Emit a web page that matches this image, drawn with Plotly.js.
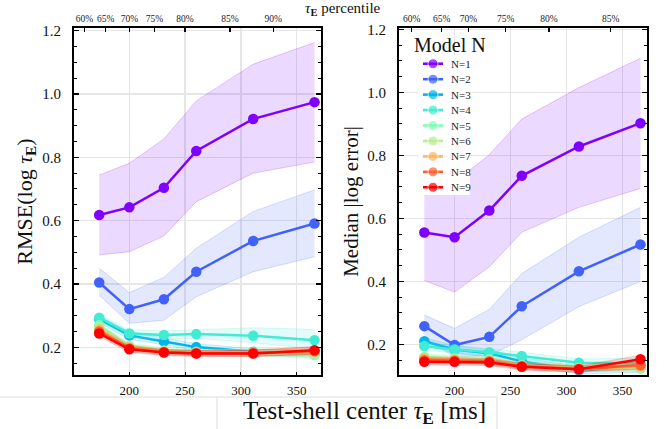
<!DOCTYPE html>
<html>
<head>
<meta charset="utf-8">
<script src="https://cdn.plot.ly/plotly-3.0.1.min.js"></script>
<style>html,body{margin:0;padding:0;background:#fff;}#chart{width:665px;height:429px;}</style>
</head>
<body>
<div id="chart"></div>
<script>
// ---------- data ----------
const tauCenters = [173, 200, 231, 260, 311, 366];
const modelNames = ['N=1','N=2','N=3','N=4','N=5','N=6','N=7','N=8','N=9'];
const modelColors = ['#8000ff','#4062fa','#00b4ec','#40ecd4','#80ffb4','#bfec8e','#ffb462','#ff6232','#ff0000'];

// Left panel: RMSE(log tau_E)
const rmseMid = [
  [0.618, 0.642, 0.704, 0.820, 0.921, 0.974],
  [0.405, 0.321, 0.352, 0.439, 0.536, 0.591],
  [0.289, 0.238, 0.219, 0.201, 0.186, 0.179],
  [0.294, 0.244, 0.239, 0.242, 0.237, 0.223],
  [0.270, 0.205, 0.190, 0.186, 0.183, 0.176],
  [0.262, 0.202, 0.188, 0.184, 0.184, 0.183],
  [0.256, 0.200, 0.187, 0.183, 0.183, 0.186],
  [0.250, 0.197, 0.185, 0.182, 0.182, 0.189],
  [0.244, 0.194, 0.184, 0.181, 0.181, 0.191]
];
const rmseLow = [
  [0.492, 0.502, 0.552, 0.660, 0.750, 0.785],
  [0.365, 0.276, 0.286, 0.360, 0.439, 0.486],
  [0.278, 0.226, 0.208, 0.190, 0.176, 0.168],
  [0.283, 0.232, 0.226, 0.228, 0.215, 0.195],
  [0.260, 0.196, 0.181, 0.177, 0.173, 0.164],
  [0.252, 0.193, 0.179, 0.175, 0.174, 0.171],
  [0.246, 0.191, 0.178, 0.174, 0.173, 0.174],
  [0.240, 0.188, 0.176, 0.173, 0.172, 0.177],
  [0.234, 0.185, 0.175, 0.172, 0.171, 0.179]
];
const rmseHigh = [
  [0.744, 0.781, 0.858, 0.978, 1.094, 1.162],
  [0.450, 0.373, 0.421, 0.513, 0.629, 0.697],
  [0.300, 0.250, 0.230, 0.212, 0.196, 0.190],
  [0.305, 0.256, 0.252, 0.256, 0.262, 0.257],
  [0.280, 0.214, 0.199, 0.195, 0.193, 0.188],
  [0.272, 0.211, 0.197, 0.193, 0.194, 0.195],
  [0.266, 0.209, 0.196, 0.192, 0.193, 0.198],
  [0.260, 0.206, 0.194, 0.191, 0.192, 0.201],
  [0.254, 0.203, 0.193, 0.190, 0.191, 0.203]
];

// Right panel: Median |log error|
const medMid = [
  [0.555, 0.540, 0.625, 0.735, 0.828, 0.902],
  [0.258, 0.198, 0.224, 0.321, 0.432, 0.517],
  [0.210, 0.184, 0.172, 0.146, 0.118, 0.125],
  [0.195, 0.184, 0.175, 0.163, 0.142, 0.140],
  [0.160, 0.155, 0.152, 0.135, 0.125, 0.124],
  [0.158, 0.153, 0.150, 0.133, 0.124, 0.128],
  [0.155, 0.151, 0.148, 0.132, 0.123, 0.131],
  [0.150, 0.148, 0.146, 0.131, 0.122, 0.134],
  [0.145, 0.145, 0.143, 0.129, 0.121, 0.153]
];
const medLow = [
  [0.403, 0.366, 0.446, 0.556, 0.635, 0.695],
  [0.220, 0.160, 0.165, 0.215, 0.320, 0.400],
  [0.198, 0.172, 0.160, 0.134, 0.106, 0.112],
  [0.183, 0.172, 0.163, 0.151, 0.130, 0.126],
  [0.150, 0.145, 0.142, 0.125, 0.115, 0.112],
  [0.148, 0.143, 0.140, 0.123, 0.114, 0.116],
  [0.145, 0.141, 0.138, 0.122, 0.113, 0.119],
  [0.140, 0.138, 0.136, 0.121, 0.112, 0.122],
  [0.135, 0.135, 0.133, 0.119, 0.111, 0.140]
];
const medHigh = [
  [0.710, 0.715, 0.802, 0.915, 1.015, 1.108],
  [0.293, 0.251, 0.311, 0.425, 0.540, 0.635],
  [0.222, 0.196, 0.184, 0.158, 0.130, 0.138],
  [0.207, 0.196, 0.187, 0.175, 0.154, 0.156],
  [0.170, 0.165, 0.162, 0.145, 0.135, 0.136],
  [0.168, 0.163, 0.160, 0.143, 0.134, 0.140],
  [0.165, 0.161, 0.158, 0.142, 0.133, 0.143],
  [0.160, 0.158, 0.156, 0.141, 0.132, 0.146],
  [0.155, 0.155, 0.153, 0.139, 0.131, 0.166]
];

// Top percentile axes
const pctLabelsLeft = ['60%','65%','70%','75%','80%','85%','90%'];
const pctTauLeft = [159.7, 178.9, 200, 222.4, 249.9, 290.2, 329];
const pctLabelsRight = ['60%','65%','70%','75%','80%','85%'];
const pctTauRight = [161.7, 188.5, 212.3, 245.7, 284.3, 339.4];

// ---------- helpers ----------
function rgba(hex, a) {
  const r = parseInt(hex.slice(1,3),16), g = parseInt(hex.slice(3,5),16), b = parseInt(hex.slice(5,7),16);
  return 'rgba(' + r + ',' + g + ',' + b + ',' + a + ')';
}

const serif = '"Liberation Serif", "Times New Roman", serif';
const traces = [];
function addPanel(mid, lo, hi, xa, ya) {
  for (let i = 0; i < modelNames.length; i++) {
    const c = modelColors[i];
    traces.push({x: tauCenters, y: lo[i], xaxis: xa, yaxis: ya, mode: 'lines', type: 'scatter',
      line: {color: rgba(c, 0.25), width: 0.8}, showlegend: false, hoverinfo: 'skip'});
    traces.push({x: tauCenters, y: hi[i], xaxis: xa, yaxis: ya, mode: 'lines', type: 'scatter',
      fill: 'tonexty', fillcolor: rgba(c, 0.15),
      line: {color: rgba(c, 0.25), width: 0.8}, showlegend: false, hoverinfo: 'skip'});
    traces.push({x: tauCenters, y: mid[i], xaxis: xa, yaxis: ya, mode: 'lines+markers', type: 'scatter',
      name: modelNames[i], line: {color: c, width: 2.5}, marker: {color: c, size: 10.5},
      showlegend: false});
  }
}
addPanel(rmseMid, rmseLow, rmseHigh, 'x', 'y');
addPanel(medMid, medLow, medHigh, 'x2', 'y2');

// empty carriers so that the top percentile axes are drawn
traces.push({x: pctTauLeft, y: pctTauLeft.map(() => null), xaxis: 'x3', yaxis: 'y', mode: 'markers',
  type: 'scatter', showlegend: false, hoverinfo: 'skip'});
traces.push({x: pctTauRight, y: pctTauRight.map(() => null), xaxis: 'x4', yaxis: 'y2', mode: 'markers',
  type: 'scatter', showlegend: false, hoverinfo: 'skip'});

// custom legend drawn on its own hidden axes
const annotations = [];
for (let i = 0; i < modelNames.length; i++) {
  traces.push({x: [5, 15, 25], y: [i + 1, i + 1, i + 1], xaxis: 'x5', yaxis: 'y5', mode: 'lines+markers',
    type: 'scatter', line: {color: modelColors[i], width: 2.6},
    marker: {color: modelColors[i], size: [0, 10, 0]}, showlegend: false, hoverinfo: 'skip'});
  annotations.push({xref: 'x5', yref: 'y5', x: 31, y: i + 1, text: modelNames[i], showarrow: false,
    xanchor: 'left', yanchor: 'middle', font: {family: serif, size: 11, color: '#222'}});
}

const W = 665, H = 429;
const px = v => v / W;
const py = v => 1 - v / H;
const tauE = '<i>τ</i><sub><b>E</b></sub>';

annotations.push({xref: 'paper', yref: 'paper', x: px(412), y: py(45), xanchor: 'left', yanchor: 'middle',
  text: 'Model N', showarrow: false, font: {family: serif, size: 20, color: '#111'}});
annotations.push({xref: 'paper', yref: 'paper', x: px(343), y: py(9), xanchor: 'center', yanchor: 'middle',
  text: tauE + ' percentile', showarrow: false, font: {family: serif, size: 15, color: '#111'}});
annotations.push({xref: 'paper', yref: 'paper', x: px(364), y: py(412), xanchor: 'center', yanchor: 'middle',
  text: 'Test-shell center ' + tauE + ' [ms]', showarrow: false, font: {family: serif, size: 25, color: '#111'}});

const xRange = [150.4, 371.8];
const plotTop = 28, plotBot = 375;
const yDomain = [py(plotBot), py(plotTop)];

function bottomX(domain, anchor) {
  return {domain: domain, anchor: anchor, range: xRange, tick0: 0, dtick: 50,
    showline: true, linewidth: 2, linecolor: '#000', mirror: true,
    ticks: 'inside', ticklen: 3, tickcolor: '#000',
    showgrid: true, gridcolor: '#e6e6e6', gridwidth: 1.3, zeroline: false,
    tickfont: {family: serif, size: 13, color: '#111'}, ticklabelstandoff: 2};
}
function leftY(range, anchor, title, tsize, standoff) {
  return {domain: yDomain, anchor: anchor, range: range, tick0: 0, dtick: 0.2, tickformat: '.1f',
    showline: true, linewidth: 2, linecolor: '#000', mirror: 'ticks',
    ticks: 'inside', ticklen: 5, tickwidth: 1.2, tickcolor: '#000',
    minor: {dtick: 0.05, tick0: 0, ticks: 'inside', ticklen: 3, tickwidth: 1, tickcolor: '#000', showgrid: false},
    showgrid: true, gridcolor: '#e6e6e6', gridwidth: 1.3, zeroline: false,
    tickfont: {family: serif, size: 15, color: '#111'}, ticklabelstandoff: 8,
    title: {text: title, font: {family: serif, size: tsize, color: '#111'}, standoff: standoff}};
}
function topX(overlay, anchor, vals, labels) {
  return {overlaying: overlay, anchor: anchor, side: 'top', range: xRange,
    tickmode: 'array', tickvals: vals, ticktext: labels, showticklabels: true,
    ticks: 'inside', ticklen: 4, tickwidth: 1.2, tickcolor: '#000',
    showline: false, showgrid: false, zeroline: false,
    tickfont: {family: serif, size: 9.5, color: '#222'}, ticklabelstandoff: 3};
}

const layout = {
  width: W, height: H,
  margin: {l: 0, r: 0, t: 0, b: 0, autoexpand: false},
  paper_bgcolor: '#fff', plot_bgcolor: '#fff',
  showlegend: false,
  font: {family: serif, color: '#111'},
  xaxis: bottomX([px(74), px(321)], 'y'),
  yaxis: leftY([0.113, 1.208], 'x', 'RMSE(log ' + tauE + ')', 22, 4),
  xaxis2: bottomX([px(399), px(647)], 'y2'),
  yaxis2: leftY([0.103, 1.204], 'x2', 'Median |log error|', 21, 3),
  xaxis3: topX('x', 'y', pctTauLeft, pctLabelsLeft),
  xaxis4: topX('x2', 'y2', pctTauRight, pctLabelsRight),
  xaxis5: {domain: [px(418), px(470)], anchor: 'y5', range: [0, 52], visible: false, fixedrange: true},
  yaxis5: {domain: [py(195), py(56)], anchor: 'x5', range: [9.5, 0.5], visible: false, fixedrange: true},
  annotations: annotations,
  shapes: [
    {type: 'line', xref: 'paper', yref: 'paper', x0: 0, x1: px(497), y0: py(397), y1: py(397),
      line: {color: '#dcdcdc', width: 1}},
    {type: 'line', xref: 'paper', yref: 'paper', x0: px(217), x1: px(217), y0: 0, y1: py(397),
      line: {color: '#dcdcdc', width: 1}},
    {type: 'line', xref: 'paper', yref: 'paper', x0: px(497), x1: px(497), y0: 0, y1: py(397),
      line: {color: '#dcdcdc', width: 1}}
  ]
};

Plotly.newPlot('chart', traces, layout, {staticPlot: true, displayModeBar: false});
</script>
</body>
</html>
